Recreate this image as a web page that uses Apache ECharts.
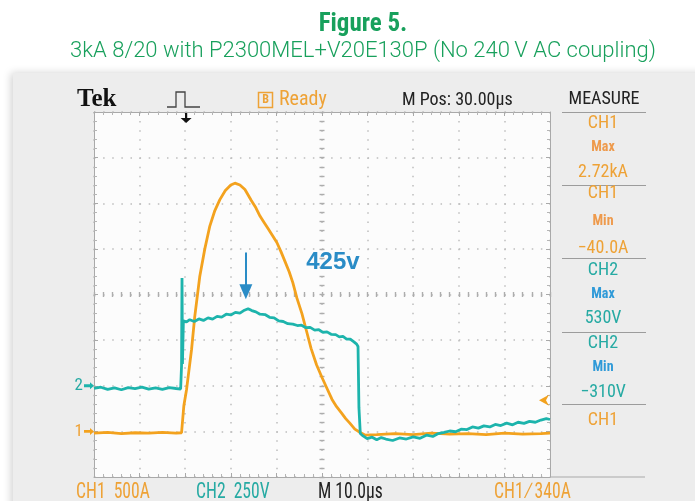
<!DOCTYPE html>
<html>
<head>
<meta charset="utf-8">
<script src="https://cdn.jsdelivr.net/npm/echarts@6/dist/echarts.min.js"></script>
<style>
    html, body { margin: 0; padding: 0; background: #fff; }
    #scope { width: 695px; height: 501px; }
</style>
</head>
<body>
<div id="scope"></div>
<script>
// CH1 current (A), time in µs from left edge of screen (10 µs/div)
var ch1Time = [0, 3, 6, 9, 12, 15, 18, 19.2, 19.7, 20.3, 21.4, 22.1, 23.2, 24.3, 25.4, 26.5, 27.6, 28.8, 30.0, 30.9,
    32.0, 33.1, 34.5, 35.5, 36.4, 37.3, 38.2, 39.1, 40.1, 41.0, 41.9, 42.8, 43.6, 44.5, 45.6, 46.6, 47.6, 48.8, 50.0,
    51.1, 52.2, 53.2, 54.3, 55.2, 56.1, 57.2, 58.3, 59.4,
    62, 66, 70, 74, 78, 82, 86, 90, 94, 98, 100];
var ch1Amps = [-20, -10, -25, -15, -20, -10, -20, -15, 280, 460, 900, 1260, 1700, 2000, 2250, 2420, 2540, 2640, 2700, 2720,
    2700, 2650, 2530, 2450, 2360, 2290, 2220, 2150, 2070, 1970, 1860, 1750, 1630, 1460, 1290, 1100, 910, 730, 590,
    470, 350, 270, 200, 140, 90, 25, -10, -40,
    -35, -25, -35, -20, -30, -25, -35, -20, -30, -25, -20];

// CH2 voltage (V)
var ch2Time = [0, 1.5, 3, 4.5, 6, 7.5, 9, 10.5, 12, 13.5, 15, 16.5, 18, 19.0, 19.2, 19.3, 19.4, 19.6,
    20.3, 21, 22, 23, 24, 25, 26, 27, 28, 29, 30, 31, 32, 33, 33.8,
    34.6, 35.5, 36.4, 37.5, 38.5, 39.5, 40.5, 41.5, 42.5, 43.6,
    44.6, 45.5, 46.5, 47.4, 48.4, 49.3, 50.2, 51.1, 52, 53,
    53.8, 54.6, 55.4, 56.2, 57.0, 57.6, 57.9, 58.1, 58.4, 59.0, 59.9,
    61, 62, 63, 64, 65.5, 67, 68.5, 70, 71.5, 73,
    74.3, 75.5, 76.8, 78, 79.3, 80.5, 81.8, 83, 84.3, 85.5,
    86.8, 88, 89.2, 90.5, 91.8, 93, 94.3, 95.5, 96.8, 98, 99.2, 100];
var ch2Volts = [-15, -8, -20, -12, -22, -10, -16, -8, -18, -12, -20, -10, -15, -18, 110, 590, 120, 355,
    350, 362, 352, 366, 358, 372, 365, 380, 376, 392, 388, 402, 398, 414, 422,
    412, 405, 392, 390, 375, 372, 355, 352, 340, 338,
    330, 332, 318, 320, 305, 308, 292, 295, 282, 280,
    268, 270, 256, 255, 240, 228, 215, -120, -262, -275, -290,
    -282, -296, -284, -292, -300, -286, -292, -280, -288, -270,
    -278, -262, -256, -248, -252, -238, -240, -226, -232, -220,
    -226, -212, -218, -205, -214, -200, -206, -195, -200, -188, -180, -185];

// measurement panel
var measureLabels = ['CH1', 'Max', '2.72kA', 'CH1', 'Min', '\u221240.0A', 'CH2', 'Max', '530V', 'CH2', 'Min', '\u2212310V', 'CH1'];
var measureKinds = ['o', 'oh', 'o', 'o', 'oh', 'o', 't', 'b', 't', 't', 'b', 't', 'o'];
var measureY = [123, 147, 172, 193, 221, 248, 270, 294, 318, 343, 367, 392, 420];
var separatorY = [112, 185, 258, 332, 404];

var ORANGE = '#f3a21e';
var ORANGE_TXT = '#eea236';
var TEAL = '#1db4ac';
var TEAL_TXT = '#26aaa3';
var BLUE = '#2f9ad8';
var ANNOT = '#2a8cc6';
var GREEN = '#18a05c';
var SCOPE_FONT = '"Roboto Condensed", Roboto, sans-serif';

function pairs(xs, ys) {
    var out = [];
    for (var i = 0; i < xs.length; i++) out.push([xs[i], ys[i]]);
    return out;
}

var gridLine = { color: '#bdbdbd', width: 1.5, type: [1.5, 7.62] };
var borderLine = { show: true, onZero: false, lineStyle: { color: '#a9a9a9', width: 1 } };

function frameAxis(extra) {
    var a = {
        axisLine: borderLine,
        axisLabel: { show: false },
        axisTick: { show: true, inside: true, length: 4, lineStyle: { color: '#a9a9a9' } },
        minorTick: { show: true, splitNumber: 5, length: 3, lineStyle: { color: '#b5b5b5' } },
        splitLine: { show: false }
    };
    for (var k in extra) a[k] = extra[k];
    return a;
}

var chart = echarts.init(document.getElementById('scope'), null, { renderer: 'canvas' });

var graphics = [
    { type: 'rect', shape: { x: 13, y: 73, width: 700, height: 440 }, style: { fill: '#ededed', shadowBlur: 8, shadowColor: 'rgba(0,0,0,0.18)', shadowOffsetX: -2 }, z: -10 },
    { type: 'text', left: 77, top: 87, style: { text: 'Tek', font: 'bold 25px "Liberation Serif", serif', fill: '#111' } },
    { type: 'polyline', shape: { points: [[167, 107], [176, 107], [176, 92], [185, 92], [185, 107], [200, 107]] }, style: { stroke: '#444', lineWidth: 1.3, fill: null } },
    { type: 'rect', shape: { x: 258.5, y: 92.5, width: 14, height: 15 }, style: { stroke: ORANGE_TXT, lineWidth: 1.5, fill: null } },
    { type: 'text', x: 265.5, y: 100, style: { text: 'B', font: 'bold 12px ' + SCOPE_FONT, fill: ORANGE_TXT, align: 'center', verticalAlign: 'middle' } },
    { type: 'text', x: 279, y: 100, style: { text: 'Ready', font: '20px ' + SCOPE_FONT, fill: ORANGE_TXT, verticalAlign: 'middle' } },
    { type: 'text', x: 402, y: 100, style: { text: 'M Pos: 30.00\u00b5s', font: '18px ' + SCOPE_FONT, fill: '#222', verticalAlign: 'middle' } },
    { type: 'text', x: 604, y: 99, style: { text: 'MEASURE', font: '18px ' + SCOPE_FONT, fill: '#222', align: 'center', verticalAlign: 'middle' } },
    { type: 'line', shape: { x1: 550, y1: 477, x2: 645, y2: 477 }, style: { stroke: '#a9a9a9', lineWidth: 1 } },
    { type: 'text', x: 76, y: 481, scaleX: 0.8, style: { text: 'CH1  500A', font: '22px ' + SCOPE_FONT, fill: ORANGE_TXT } },
    { type: 'text', x: 196, y: 481, scaleX: 0.8, style: { text: 'CH2  250V', font: '22px ' + SCOPE_FONT, fill: TEAL_TXT } },
    { type: 'text', x: 318, y: 481, scaleX: 0.8, style: { text: 'M 10.0\u00b5s', font: '22px ' + SCOPE_FONT, fill: '#222' } },
    { type: 'text', x: 494, y: 481, scaleX: 0.8, style: { text: 'CH1 \u2215 340A', font: '22px ' + SCOPE_FONT, fill: ORANGE_TXT } }
];

separatorY.forEach(function (y) {
    graphics.push({ type: 'line', shape: { x1: 562, y1: y + 0.5, x2: 646, y2: y + 0.5 }, style: { stroke: '#9c9c9c', lineWidth: 1 } });
});
measureLabels.forEach(function (t, i) {
    var kind = measureKinds[i];
    var fill = kind === 'o' ? ORANGE_TXT : kind === 'oh' ? '#ee9a4c' : kind === 't' ? TEAL_TXT : BLUE;
    var small = kind === 'oh' || kind === 'b';
    graphics.push({
        type: 'text', x: 603, y: measureY[i],
        style: {
            text: t, fill: fill, align: 'center', verticalAlign: 'middle',
            font: (small ? 'bold 14px ' : '18px ') + SCOPE_FONT
        }
    });
});

var option = {
    backgroundColor: '#fff',
    animation: false,
    title: [{
        text: 'Figure 5.',
        left: 358, top: 7, textAlign: 'center',
        textStyle: { color: GREEN, fontFamily: SCOPE_FONT, fontWeight: 'bold', fontSize: 25 }
    }, {
        text: '3kA 8/20 with P2300MEL+V20E130P (No 240\u2009V AC coupling)',
        left: 358, top: 35, textAlign: 'center',
        textStyle: { color: GREEN, fontFamily: 'Roboto, sans-serif', fontWeight: 300, fontSize: 22 }
    }],
    graphic: graphics,
    grid: {
        left: 94, top: 112, width: 456, height: 365,
        show: true, backgroundColor: '#fcfcfc', borderWidth: 0
    },
    xAxis: [
        frameAxis({ type: 'value', position: 'bottom', min: 0, max: 100, interval: 10,
            splitLine: { show: true, lineStyle: gridLine } }),
        frameAxis({ type: 'value', position: 'top', min: 0, max: 100, interval: 10 }),
        // centre crosshair ticks
        frameAxis({ type: 'value', position: 'bottom', offset: -180, min: 0, max: 100, interval: 10,
            axisLine: { show: false, onZero: false },
            axisTick: { show: true, inside: true, length: 5, lineStyle: { color: '#adadad', width: 1.4 } },
            minorTick: { show: true, splitNumber: 5, length: 5, lineStyle: { color: '#adadad', width: 1.4 } } })
    ],
    yAxis: [
        frameAxis({ type: 'value', position: 'left', min: -500, max: 3500, interval: 500,
            splitLine: { show: true, lineStyle: gridLine } }),
        frameAxis({ type: 'value', position: 'right', min: -500, max: 1500, interval: 250 }),
        frameAxis({ type: 'value', position: 'left', offset: -225.5, min: 0, max: 8, interval: 1,
            axisLine: { show: false, onZero: false },
            axisTick: { show: true, inside: true, length: 5, lineStyle: { color: '#adadad', width: 1.4 } },
            minorTick: { show: true, splitNumber: 5, length: 5, lineStyle: { color: '#adadad', width: 1.4 } } })
    ],
    series: [{
        name: 'CH1',
        type: 'line',
        xAxisIndex: 0,
        yAxisIndex: 0,
        data: pairs(ch1Time, ch1Amps),
        showSymbol: false,
        lineStyle: { color: ORANGE, width: 2.8 },
        itemStyle: { color: ORANGE },
        markPoint: {
            silent: true,
            data: [
                // ground marker
                { coord: [0, 0], symbol: 'path://M0,3 L6,3 L6,0 L10,5 L6,10 L6,7 L0,7 Z', symbolSize: [10, 7], symbolOffset: [-5, 0],
                  itemStyle: { color: ORANGE },
                  label: { show: true, formatter: '1', position: 'left', distance: 1, color: ORANGE_TXT, fontSize: 17, fontFamily: SCOPE_FONT } },
                // trigger level
                { coord: [100, 340], symbol: 'path://M10,0 L0,5 L10,10 L7,5 Z', symbolSize: [10, 11], symbolOffset: [-6, 0],
                  itemStyle: { color: ORANGE }, label: { show: false } },
                // trigger position
                { coord: [20.2, 3500], symbol: 'path://M4,0 L6,0 L6,5 L10,5 L5,10 L0,5 L4,5 Z', symbolSize: [11, 10], symbolOffset: [0, 6],
                  itemStyle: { color: '#111' }, label: { show: false } }
            ]
        },
        z: 3
    }, {
        name: 'CH2',
        type: 'line',
        xAxisIndex: 0,
        yAxisIndex: 1,
        data: pairs(ch2Time, ch2Volts),
        showSymbol: false,
        lineStyle: { color: TEAL, width: 2.8 },
        itemStyle: { color: TEAL },
        markPoint: {
            silent: true,
            data: [
                { coord: [0, 0], symbol: 'path://M0,3 L6,3 L6,0 L10,5 L6,10 L6,7 L0,7 Z', symbolSize: [10, 7], symbolOffset: [-5, 0],
                  itemStyle: { color: TEAL },
                  label: { show: true, formatter: '2', position: 'left', distance: 1, color: TEAL_TXT, fontSize: 17, fontFamily: SCOPE_FONT } },
                { coord: [52.4, 674], symbol: 'rect', symbolSize: 1, itemStyle: { color: 'rgba(0,0,0,0)' },
                  label: { show: true, formatter: '425v', position: 'inside', color: ANNOT, fontSize: 24, fontWeight: 'bold', fontFamily: '"Liberation Sans", Arial, sans-serif' } }
            ]
        },
        markLine: {
            silent: true,
            symbol: ['none', 'triangle'],
            symbolSize: [13, 15],
            label: { show: false },
            lineStyle: { color: ANNOT, width: 2, type: 'solid' },
            data: [[{ coord: [33.3, 730] }, { coord: [33.3, 515] }]]
        },
        z: 4
    }]
};

chart.setOption(option);
</script>
</body>
</html>
